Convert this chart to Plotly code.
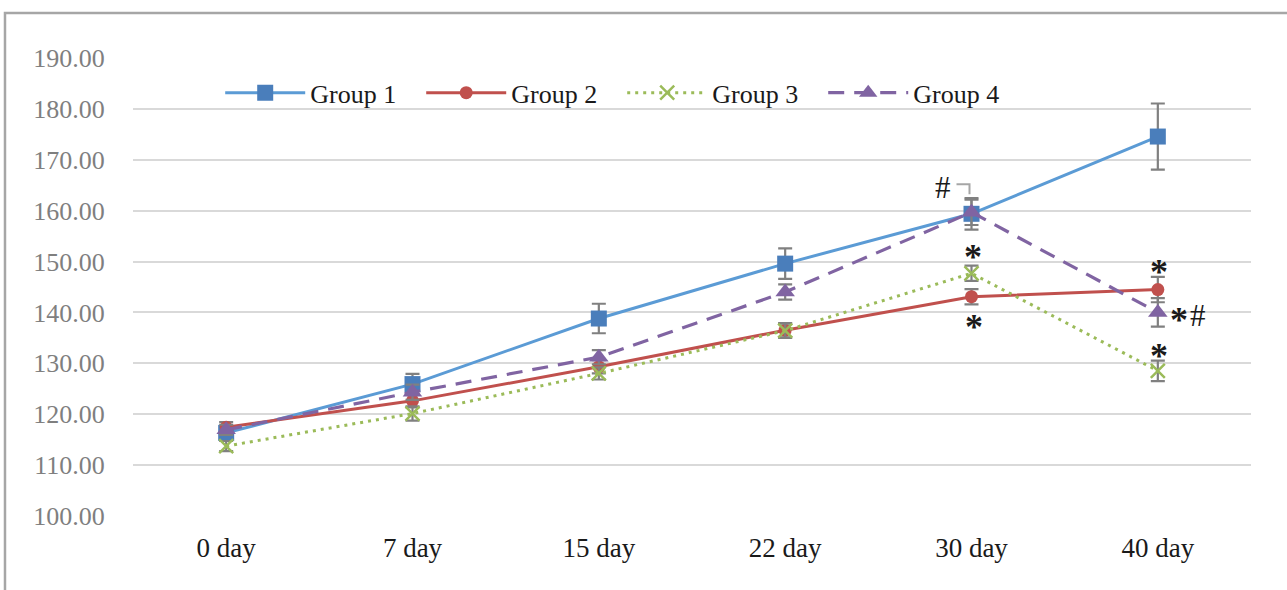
import plotly.graph_objects as go

days = ["0 day", "7 day", "15 day", "22 day", "30 day", "40 day"]
group1 = [116.3, 125.9, 138.8, 149.6, 159.4, 174.6]
group2 = [117.4, 122.6, 129.3, 136.5, 143.1, 144.5]
group3 = [113.7, 120.1, 128.0, 136.4, 147.7, 128.5]
group4 = [116.9, 124.3, 131.2, 144.0, 159.7, 140.0]
err1 = [1.2, 2.0, 2.9, 3.0, 3.1, 6.5]
err2 = [1.0, 1.3, 1.3, 1.4, 1.5, 2.5]
err3 = [1.0, 1.4, 1.2, 1.4, 1.5, 2.0]
err4 = [1.0, 1.5, 1.4, 1.5, 2.5, 2.8]
yticks = [100, 110, 120, 130, 140, 150, 160, 170, 180, 190]

FONT = "Liberation Serif"
ERRC = "#808080"

fig = go.Figure()

def err(a):
    return dict(type="data", array=a, color=ERRC, thickness=2.2, width=7, visible=True)

fig.add_trace(go.Scatter(
    x=days, y=group1, name="Group 1", mode="lines+markers",
    line=dict(color="#5B9BD5", width=3),
    marker=dict(symbol="square", size=16, color="#4A7EBB"),
    error_y=err(err1)))
fig.add_trace(go.Scatter(
    x=days, y=group2, name="Group 2", mode="lines+markers",
    line=dict(color="#C0504D", width=3),
    marker=dict(symbol="circle", size=13, color="#C0504D"),
    error_y=err(err2)))
fig.add_trace(go.Scatter(
    x=days, y=group3, name="Group 3", mode="lines+markers",
    line=dict(color="#9BBB59", width=3, dash="3px,5px"),
    marker=dict(symbol="x-thin", size=14, color="#9BBB59",
                line=dict(color="#9BBB59", width=2.5)),
    error_y=err(err3)))
fig.add_trace(go.Scatter(
    x=days, y=group4, name="Group 4", mode="lines+markers",
    line=dict(color="#8064A2", width=3.2, dash="16px,10px"),
    marker=dict(symbol="triangle-up", size=17, color="#8064A2"),
    error_y=err(err4)))

ann = []
def add(x, y, text, xs=0, ys=0, size=36):
    ann.append(dict(x=x, y=y, xref="x", yref="y", text=text, showarrow=False,
                    xshift=xs, yshift=ys,
                    font=dict(family=FONT, size=size, color="#1a1a1a")))

STAR = "<b>*</b>"
add("30 day", group3[4], STAR, 1, 16)
add("30 day", group2[4], STAR, 2, -30)
add("40 day", group2[5], STAR, 1, 18)
add("40 day", group3[5], STAR, 1, 15)
add("40 day", group4[5], STAR, 21, -8)
add("40 day", group4[5], "#", 40, -3, 31)
add("30 day", group4[4], "#", -29, 25, 31)
fig.update_layout(annotations=ann)

# bracket next to "#"
fig.add_shape(type="path", xref="x", yref="y", xsizemode="pixel", ysizemode="pixel",
              xanchor=4, yanchor=group4[4],
              path="M-15,28 L-2,28 L-2,18", line=dict(color="#A6A6A6", width=2))

# chart frame
fig.add_shape(type="path", xref="paper", yref="paper",
              path="M -0.1145,-0.3 L -0.1145,1.098 L 1.2,1.098",
              line=dict(color="#A6A6A6", width=2.5))

fig.update_layout(
    width=1287, height=590,
    margin=dict(l=133, r=36, t=58, b=74),
    paper_bgcolor="white", plot_bgcolor="white",
    font=dict(family=FONT, size=26, color="#262626"),
    showlegend=True,
    legend=dict(orientation="h", x=0.078, y=0.924, xanchor="left", yanchor="middle",
                font=dict(family=FONT, size=26, color="#1a1a1a"),
                itemwidth=80, entrywidth=106, entrywidthmode="pixels",
                bgcolor="rgba(0,0,0,0)", traceorder="normal"),
    xaxis=dict(type="category", range=[-0.5, 5.5], showgrid=False, showline=False,
               zeroline=False, ticks="outside", ticklen=8, tickcolor="rgba(0,0,0,0)",
               tickfont=dict(family=FONT, size=27, color="#1a1a1a")),
    yaxis=dict(range=[99.95, 190.05], tickvals=yticks,
               ticktext=[f"{v:.2f}" for v in yticks],
               showgrid=True, gridcolor="#D9D9D9", gridwidth=2, zeroline=False,
               showline=False, ticks="outside", ticklen=22, tickcolor="rgba(0,0,0,0)",
               tickfont=dict(family=FONT, size=26, color="#7F7F7F")),
)

fig.write_html("out.html", config={"displayModeBar": False},
               post_script="document.body.style.margin='0';")
